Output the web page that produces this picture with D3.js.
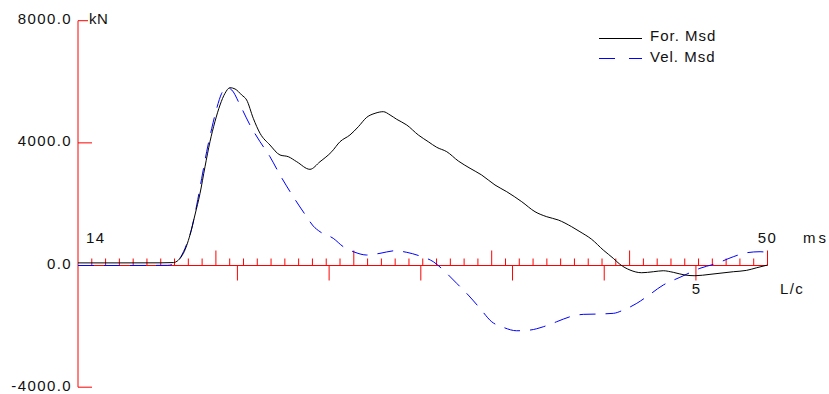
<!DOCTYPE html>
<html>
<head>
<meta charset="utf-8">
<script src="https://cdn.jsdelivr.net/npm/d3@7"></script>
<style>
  html, body { margin: 0; padding: 0; background: #fff; }
  svg { display: block; }
  text { font-family: "Liberation Sans", Arial, sans-serif; fill: #111; }
</style>
</head>
<body>
<svg id="chart" width="829" height="394"></svg>
<script>
// Force and velocity (velocity scaled by impedance) records, time in ms, values in kN
const forceTime = [0, 3, 6, 6.91, 7.64, 8.12, 8.48, 8.85, 9.21, 9.57, 9.93, 10.30, 10.66, 11.02, 11.39, 11.87, 12.23, 12.71, 13.20, 13.92, 14.65, 15.25, 15.86, 16.82, 17.55, 18.40, 19.00, 19.72, 20.33, 20.94, 21.54, 22.14, 22.63, 23.11, 23.84, 24.68, 25.40, 26.01, 26.74, 27.58, 28.43, 29.27, 30.24, 31.09, 32.18, 33.14, 33.99, 34.83, 35.80, 36.40, 37.25, 38.09, 38.82, 39.30, 40.03, 40.88, 41.72, 42.44, 43.17, 44.02, 44.74, 45.83, 47.52, 48.49, 49.22, 50.0];
const forceMsd = [70, 70, 72, 80, 383, 983, 1638, 2348, 3219, 4038, 4693, 5240, 5623, 5806, 5764, 5568, 5404, 4804, 4313, 3930, 3603, 3547, 3383, 3134, 3383, 3711, 4038, 4258, 4529, 4837, 4968, 5021, 4913, 4772, 4585, 4258, 4038, 3855, 3711, 3406, 3167, 2948, 2620, 2401, 2073, 1746, 1582, 1474, 1254, 1091, 842, 491, 219, 23, -164, -252, -219, -187, -239, -328, -350, -305, -219, -174, -88, 0];

const velTime = [0, 3, 6.5, 7.03, 7.76, 8.25, 8.61, 8.97, 9.33, 9.70, 10.06, 10.42, 10.78, 11.15, 11.75, 12.47, 13.20, 13.92, 14.65, 15.61, 16.58, 17.06, 17.55, 18.51, 19.24, 20.09, 20.94, 21.90, 22.99, 23.84, 24.80, 25.77, 26.74, 27.46, 28.30, 29.15, 30.00, 30.84, 31.81, 32.78, 33.74, 34.71, 35.68, 36.64, 37.61, 38.82, 39.55, 40.52, 41.24, 42.44, 43.65, 45.10, 46.32, 47.52, 48.49, 49.46, 49.96];
const velMsd = [-15, -15, -10, 56, 547, 1202, 1965, 2839, 3711, 4477, 5132, 5623, 5806, 5731, 5240, 4585, 4038, 3547, 2948, 2237, 1582, 1277, 1091, 874, 599, 416, 328, 383, 468, 416, 295, 108, -272, -599, -983, -1418, -1857, -2040, -2152, -2129, -2021, -1857, -1693, -1615, -1605, -1582, -1474, -1254, -1038, -655, -403, -108, 56, 272, 403, 436, 416];

// Axis definitions
const yTicks = [8000, 4000, 0, -4000];
const yTickLabels = ["8000.0", "4000.0", "0.0", "-4000.0"];
const timeTicks = d3.range(0, 51, 1);          // one tick per ms
const lcStart = 11.56, lcPeriod = 6.65;          // 2L/c marks from the force peak
const lcTicks = [0, 1, 2, 3, 4, 5];
const seriesNames = ["For. Msd", "Vel. Msd"];

const svg = d3.select("#chart");

const x = d3.scaleLinear().domain([0, 50]).range([78, 767.5]);
const y = d3.scaleLinear().domain([-4000, 8000]).range([387.2, 20.7]);

// Vertical force axis
const yAxisColor = "#ff0000";
svg.append("line")
  .attr("x1", 78).attr("x2", 78)
  .attr("y1", y(8000)).attr("y2", y(-4000))
  .attr("stroke", yAxisColor).attr("stroke-width", 1);

svg.selectAll("line.ytick")
  .data(yTicks.filter(d => d !== 0))
  .join("line")
  .attr("class", "ytick")
  .attr("x1", 78).attr("x2", d => d === 8000 ? 88 : 92)
  .attr("y1", d => y(d)).attr("y2", d => y(d))
  .attr("stroke", yAxisColor).attr("stroke-width", 1);

svg.selectAll("text.ylab")
  .data(yTicks)
  .join("text")
  .attr("class", "ylab")
  .attr("x", 72)
  .attr("y", d => y(d) + 3.5)
  .attr("text-anchor", "end")
  .style("font-size", "15px")
  .style("letter-spacing", "1.4px")
  .text((d, i) => yTickLabels[i]);

svg.append("text")
  .attr("x", 89).attr("y", 24)
  .style("font-size", "15px")
  .style("letter-spacing", "0.5px")
  .text("kN");

// Time axis along zero force
const y0 = Math.round(y(0)) + 0.5;
svg.append("line")
  .attr("x1", x(0)).attr("x2", x(50))
  .attr("y1", y0).attr("y2", y0)
  .attr("stroke", "#ff0000").attr("stroke-width", 1);

svg.selectAll("line.ttick")
  .data(timeTicks.filter(d => d > 0))
  .join("line")
  .attr("class", "ttick")
  .attr("x1", d => x(d)).attr("x2", d => x(d))
  .attr("y1", y0)
  .attr("y2", d => d % 10 === 0 ? y0 - 15 : y0 - 7)
  .attr("stroke", "#ff0000").attr("stroke-width", 1);

svg.selectAll("line.lctick")
  .data(lcTicks)
  .join("line")
  .attr("class", "lctick")
  .attr("x1", d => x(lcStart + d * lcPeriod)).attr("x2", d => x(lcStart + d * lcPeriod))
  .attr("y1", y0).attr("y2", y0 + 15)
  .attr("stroke", "#ff0000").attr("stroke-width", 1);

svg.append("text")
  .attr("x", 86).attr("y", 243)
  .style("font-size", "15px").style("letter-spacing", "1.4px")
  .text("14");
svg.append("text")
  .attr("x", x(50)).attr("y", 243)
  .attr("text-anchor", "middle")
  .style("font-size", "15px").style("letter-spacing", "1.4px")
  .text("50");
svg.append("text")
  .attr("x", 803).attr("y", 243)
  .style("font-size", "15px").style("letter-spacing", "3px")
  .text("ms");
svg.append("text")
  .attr("x", x(lcStart + 5 * lcPeriod)).attr("y", 294)
  .attr("text-anchor", "middle")
  .style("font-size", "15px")
  .text("5");
svg.append("text")
  .attr("x", 780).attr("y", 294)
  .style("font-size", "15px").style("letter-spacing", "1.4px")
  .text("L/c");

// Measured records
const line = d3.line()
  .x(d => x(d[0]))
  .y(d => y(d[1]))
  .curve(d3.curveMonotoneX);

svg.append("path")
  .datum(d3.zip(velTime, velMsd))
  .attr("d", line)
  .attr("fill", "none")
  .attr("stroke", "#0000ff")
  .attr("stroke-width", 1)
  .attr("stroke-dasharray", "16,10");

svg.append("path")
  .datum(d3.zip(forceTime, forceMsd))
  .attr("d", line)
  .attr("fill", "none")
  .attr("stroke", "#000")
  .attr("stroke-width", 1);

// Legend
const legend = svg.append("g");
legend.append("line")
  .attr("x1", 599).attr("x2", 642).attr("y1", 38.5).attr("y2", 38.5)
  .attr("stroke", "#000").attr("stroke-width", 1);
legend.append("line")
  .attr("x1", 599).attr("x2", 642).attr("y1", 58.5).attr("y2", 58.5)
  .attr("stroke", "#0000ff").attr("stroke-width", 1)
  .attr("stroke-dasharray", "16,14");
legend.selectAll("text")
  .data(seriesNames)
  .join("text")
  .attr("x", 650)
  .attr("y", (d, i) => 41 + i * 20.5)
  .style("font-size", "15px")
  .style("letter-spacing", "1px")
  .text(d => d);
</script>
</body>
</html>
